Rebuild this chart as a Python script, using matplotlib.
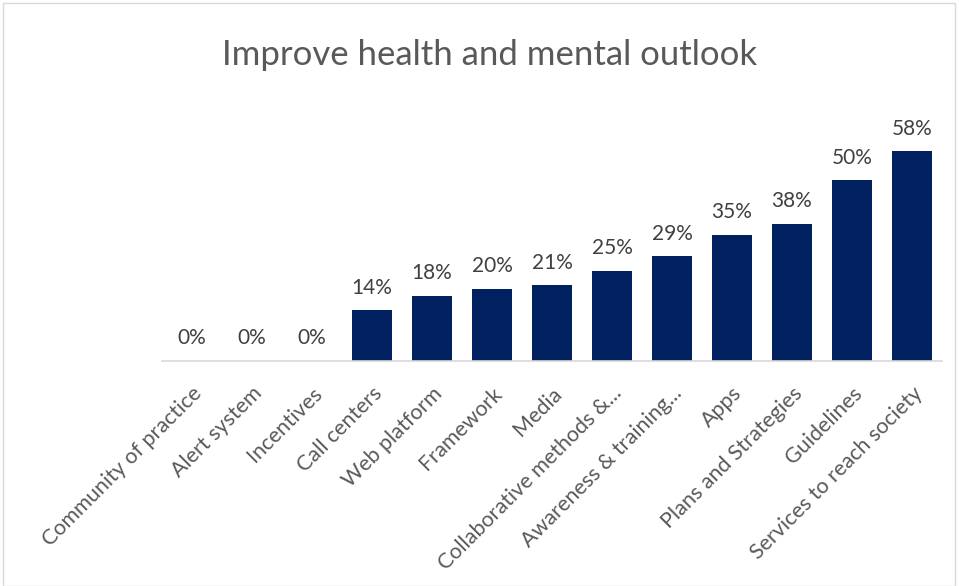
import matplotlib

matplotlib.use("Agg")
import matplotlib.pyplot as plt
from matplotlib.patches import Rectangle

categories = [
    "Community of practice",
    "Alert system",
    "Incentives",
    "Call centers",
    "Web platform",
    "Framework",
    "Media",
    "Collaborative methods &...",
    "Awareness & training...",
    "Apps",
    "Plans and Strategies",
    "Guidelines",
    "Services to reach society",
]
shares = [0.00, 0.00, 0.00, 0.14, 0.18, 0.20, 0.21, 0.25, 0.29, 0.35, 0.38, 0.50, 0.58]
title = "Improve health and mental outlook"

plt.rcParams["font.family"] = ["Lato", "DejaVu Sans"]

figure = plt.figure(figsize=(9.59, 5.86), dpi=100)
axis = figure.add_axes([162 / 959, 1 - 361 / 586, 780 / 959, 253 / 586])

positions = range(len(categories))
bars = axis.bar(positions, shares, width=0.667, color="#002060")
axis.set_xlim(-0.5, len(categories) - 0.5)
axis.set_ylim(0, 0.70)

for bar, value in zip(bars, shares):
    axis.annotate(
        f"{value:.0%}",
        (bar.get_x() + bar.get_width() / 2, value),
        xytext=(0, 9),
        textcoords="offset points",
        ha="center",
        va="bottom",
        fontsize=15,
        color="#404040",
    )

axis.set_xticks(list(positions))
axis.set_xticklabels(
    categories, rotation=45, ha="right", rotation_mode="anchor",
    fontsize=15.5, color="#595959",
)
axis.tick_params(axis="x", length=0, pad=16)
axis.set_yticks([])
for side in ("left", "right", "top"):
    axis.spines[side].set_visible(False)
axis.spines["bottom"].set_color("#D9D9D9")
axis.spines["bottom"].set_linewidth(1.2)

figure.text(490 / 959, 1 - 55 / 586, title, ha="center", va="center",
            fontsize=25, color="#595959")

# thin frame round the whole chart area
figure.patches.append(
    Rectangle((3 / 959, 0.0), 952 / 959, 1 - 3 / 586, transform=figure.transFigure,
              fill=False, edgecolor="#D9D9D9", linewidth=1.0)
)

figure.savefig("out.png", dpi=100, facecolor="white")
plt.close(figure)
